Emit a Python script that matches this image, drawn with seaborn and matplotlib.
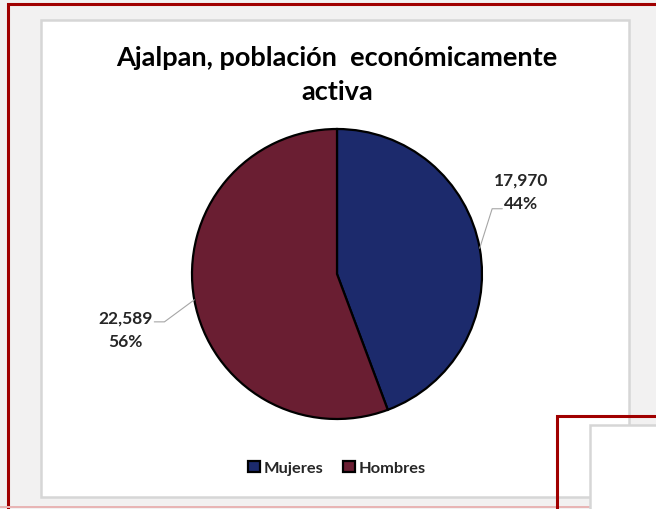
import numpy as np
import matplotlib
matplotlib.use("Agg")
import matplotlib.pyplot as plt
import seaborn as sns
from matplotlib.patches import Rectangle

# data
categories = ["Mujeres", "Hombres"]
values = [17970, 22589]
colors = ["#1c2a6c", "#6a1e32"]
title = "Ajalpan, población  económicamente\nactiva"

sns.set_theme(style="white")
plt.rcParams['font.family'] = ['Lato', 'DejaVu Sans']

W, H = 656, 510
fig = plt.figure(figsize=(W / 100, H / 100), dpi=100)
fig.patch.set_facecolor("#f2f1f1")


def px_rect(x0, y0, x1, y1, **kw):
    # rectangle given in pixel coords (origin top-left)
    r = Rectangle((x0 / W, 1 - y1 / H), (x1 - x0) / W, (y1 - y0) / H,
                  transform=fig.transFigure, **kw)
    fig.add_artist(r)
    return r


# slide frame + chart box
px_rect(8, 5, 700, 560, fill=False, edgecolor="#a00000", lw=2.2, zorder=1)
px_rect(0, 507, 656, 509, facecolor="#e8b5b5", edgecolor="none", zorder=1)
px_rect(41, 21, 629, 498, facecolor="white", edgecolor="#d6d6d6", lw=1.8, zorder=2)

# pie
cx, cy, R = 337, 275, 145
ax = fig.add_axes([(cx - R) / W, 1 - (cy + R) / H, 2 * R / W, 2 * R / H])
ax.set_zorder(3)
ax.patch.set_alpha(0)
wedges, _ = ax.pie(values, colors=colors, startangle=90, counterclock=False,
                   wedgeprops=dict(edgecolor="black", linewidth=1.6))
ax.set_xlim(-1, 1)
ax.set_ylim(-1, 1)
ax.set_aspect("equal")
ax.axis("off")

total = sum(values)
label_pos = [(1.27, 0.57), (-1.46, -0.38)]
for w, v, (tx, ty) in zip(wedges, values, label_pos):
    ang = np.deg2rad((w.theta1 + w.theta2) / 2)
    ex, ey = np.cos(ang), np.sin(ang)
    pct = round(100 * v / total)
    ax.text(tx, ty, f"{v:,}\n{pct}%", ha="center", va="center", fontsize=12.5,
            fontweight="bold", color="#262626", linespacing=1.55)
    # leader line
    if tx > 0:
        ax.plot([ex, 1.07, 1.14], [ey, 0.45, 0.45], color="#a6a6a6", lw=0.8,
                clip_on=False)
    else:
        ax.plot([ex, -1.19, -1.26], [ey, -0.33, -0.33], color="#a6a6a6", lw=0.8,
                clip_on=False)

fig.text(cx / W, 1 - 75 / H, title, ha="center", va="center", fontsize=19.5,
         fontweight="bold", color="black", linespacing=1.5, zorder=4)

leg = fig.legend(wedges, categories, loc="center", bbox_to_anchor=(337 / W, 1 - 469 / H),
                 ncol=2, frameon=False, handlelength=0.7, handleheight=0.7,
                 handletextpad=0.25, columnspacing=1.2, prop=dict(weight="bold", size=11.8))
leg.set_zorder(4)

# second (overlapping) slide box
px_rect(557, 417, 700, 560, fill=False, edgecolor="#a00000", lw=2.2, zorder=5)
px_rect(590, 426, 700, 560, facecolor="white", edgecolor="#d6d6d6", lw=1.8, zorder=5)

fig.savefig("out.png", dpi=100, facecolor=fig.get_facecolor())
